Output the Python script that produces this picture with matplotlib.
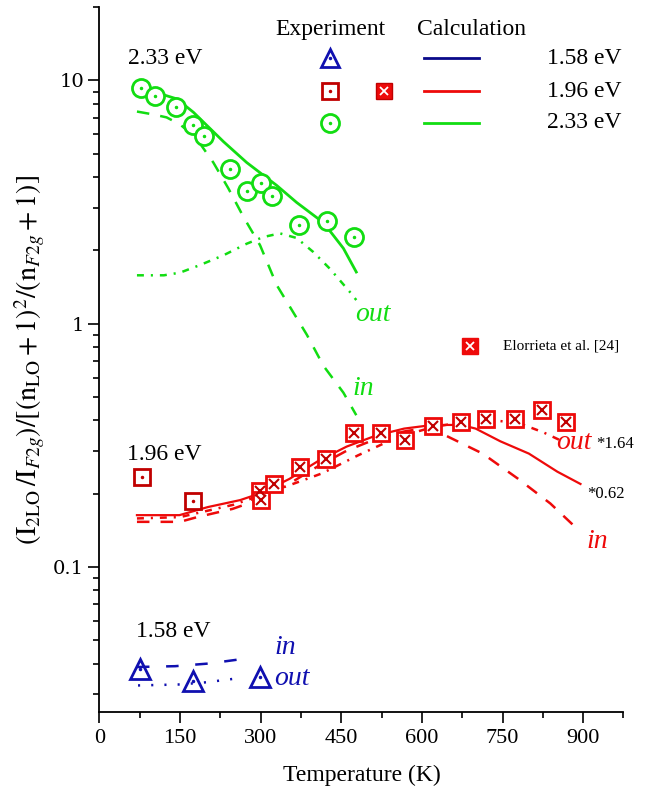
import matplotlib
matplotlib.use("Agg")
import matplotlib.pyplot as plt
from matplotlib.ticker import FixedLocator, LogLocator, NullFormatter, FixedFormatter

plt.rcParams['font.family'] = ['Liberation Serif', 'DejaVu Serif']
plt.rcParams['mathtext.fontset'] = 'stix'
plt.rcParams['lines.scale_dashes'] = False

GREEN = '#12dd12'
RED = '#ee0a0a'
DARKRED = '#c00000'
BLUE = '#1010b0'
NAVY = '#0a0a8a'

# --- experiment (temperature in K, normalised intensity ratio) ---
green_T = [77, 103, 143, 175, 195, 243, 274, 300, 322, 372, 424, 473]
green_v = [9.33, 8.65, 7.77, 6.55, 5.92, 4.34, 3.50, 3.77, 3.35, 2.54, 2.64, 2.27]

red_T = [79, 175]
red_v = [0.235, 0.187]

elor_T = [298, 300, 325, 373, 421, 474, 524, 568, 621, 673, 720, 773, 823, 869]
elor_v = [0.205, 0.188, 0.218, 0.258, 0.278, 0.355, 0.355, 0.332, 0.38, 0.393, 0.406, 0.406, 0.442, 0.393]

blue_T = [76, 175, 299]
blue_v = [0.038, 0.034, 0.0352]

# --- calculation ---
g_sol_T = [70, 100, 144, 175, 231, 274, 330, 367, 417, 454, 478]
g_sol_v = [9.3, 9.0, 8.4, 7.4, 5.6, 4.6, 3.7, 3.15, 2.6, 2.04, 1.63]
g_in_T = [70, 100, 125, 150, 180, 212, 240, 268, 299, 330, 386, 417, 454, 478]
g_in_v = [7.45, 7.25, 7.05, 6.6, 5.8, 4.6, 3.6, 2.75, 2.1, 1.44, 0.90, 0.67, 0.52, 0.42]
g_out_T = [70, 120, 150, 187, 231, 274, 305, 336, 367, 398, 429, 466, 478]
g_out_v = [1.58, 1.58, 1.62, 1.74, 1.91, 2.13, 2.27, 2.35, 2.25, 1.97, 1.68, 1.35, 1.25]

r_sol_T = [70, 149, 202, 262, 301, 354, 408, 460, 514, 567, 620, 673, 700, 746, 799, 852, 895]
r_sol_v = [0.163, 0.163, 0.176, 0.188, 0.201, 0.23, 0.273, 0.312, 0.346, 0.37, 0.383, 0.383, 0.37, 0.328, 0.292, 0.246, 0.219]
r_in_T = [70, 150, 182, 248, 300, 354, 408, 460, 514, 567, 600, 646, 713, 779, 839, 882]
r_in_v = [0.153, 0.153, 0.16, 0.173, 0.19, 0.22, 0.26, 0.30, 0.335, 0.36, 0.37, 0.345, 0.292, 0.23, 0.182, 0.148]
r_out_T = [70, 150, 250, 350, 414, 481, 553, 620, 680, 733, 780, 826, 859]
r_out_v = [0.158, 0.16, 0.18, 0.215, 0.242, 0.287, 0.34, 0.375, 0.395, 0.40, 0.39, 0.357, 0.33]

b_in_T = [70, 141, 204, 275]
b_in_v = [0.0387, 0.039, 0.040, 0.042]
b_out_T = [72, 150, 200, 250]
b_out_v = [0.0325, 0.0328, 0.0335, 0.0346]

x_ticks = [0, 150, 300, 450, 600, 750, 900]
y_ticks = [0.1, 1, 10]
y_tick_labels = ['0.1', '1', '10']

fig = plt.figure(figsize=(6.5, 7.98), dpi=100)
ax = fig.add_axes([0.1528, 0.1074, 0.8064, 0.8835])
ax.set_yscale('log')
ax.set_xlim(0, 975)
ax.set_ylim(0.0252, 20)

dash_in = (0, (9, 8))
dash_out = (0, (5, 5, 1.5, 5))

# calculation lines
ax.plot(g_sol_T, g_sol_v, color=GREEN, lw=2.0)
ax.plot(g_in_T, g_in_v, color=GREEN, lw=1.8, linestyle=dash_in)
ax.plot(g_out_T, g_out_v, color=GREEN, lw=1.8, linestyle=dash_out)
ax.plot(r_sol_T, r_sol_v, color=RED, lw=1.6)
ax.plot(r_in_T, r_in_v, color=RED, lw=1.8, linestyle=dash_in)
ax.plot(r_out_T, r_out_v, color=RED, lw=1.8, linestyle=dash_out)
ax.plot(b_in_T, b_in_v, color=BLUE, lw=1.8, linestyle=(0, (9, 12)))
ax.plot(b_out_T, b_out_v, color=BLUE, lw=1.8, linestyle=(0, (1.5, 8)))

# experiment markers
ax.plot(green_T, green_v, 'o', mfc='white', mec=GREEN, ms=13, mew=2)
ax.plot(green_T, green_v, '.', color=GREEN, ms=3)
ax.plot(red_T, red_v, 's', mfc='white', mec=DARKRED, ms=11, mew=2)
ax.plot(red_T, red_v, '.', color=DARKRED, ms=3)
ax.plot(elor_T, elor_v, 's', mfc='white', mec=RED, ms=12, mew=2)
ax.plot(elor_T, elor_v, 'x', color=DARKRED, ms=7, mew=1.5)
ax.plot(blue_T, blue_v, '^', mfc='none', mec=BLUE, ms=14, mew=2)
ax.plot(blue_T, blue_v, '.', color=BLUE, ms=3)

# axes style
for s in ['top', 'right']:
    ax.spines[s].set_visible(False)
for s in ['left', 'bottom']:
    ax.spines[s].set_linewidth(1.3)
ax.xaxis.set_major_locator(FixedLocator(x_ticks))
ax.xaxis.set_minor_locator(FixedLocator(list(range(75, 976, 150))))
ax.yaxis.set_major_locator(FixedLocator(y_ticks))
ax.yaxis.set_major_formatter(FixedFormatter(y_tick_labels))
ax.yaxis.set_minor_locator(LogLocator(base=10, subs=range(2, 10)))
ax.yaxis.set_minor_formatter(NullFormatter())
ax.tick_params(which='major', length=8, width=1.2, direction='out')
ax.tick_params(which='minor', length=4, width=1.2, direction='out')
ax.tick_params(axis='x', labelsize=16, pad=4)
ax.tick_params(axis='y', labelsize=14, pad=3)
for lab in ax.get_yticklabels():
    lab.set_fontfamily('DejaVu Serif')

ax.set_xlabel('Temperature (K)', fontsize=17, labelpad=12)
ax.set_ylabel(r'$(\mathrm{I}_{2\mathrm{LO}}\,/\mathrm{I}_{F2g})/[(\mathrm{n}_{\mathrm{LO}}+1)^2/(\mathrm{n}_{F2g}+1)]$',
              fontsize=20, labelpad=4)

# curve labels
ax.text(52, 0.29, '1.96 eV', fontsize=17, va='center')
ax.text(69, 0.054, '1.58 eV', fontsize=17, va='center')
ax.text(470, 0.54, 'in', color=GREEN, style='italic', fontsize=20, va='center')
ax.text(476, 1.09, 'out', color=GREEN, style='italic', fontsize=20, va='center')
ax.text(849, 0.324, 'out', color=RED, style='italic', fontsize=20, va='center')
ax.text(907, 0.127, 'in', color=RED, style='italic', fontsize=20, va='center')
ax.text(925, 0.32, '*1.64', fontsize=12, va='center')
ax.text(908, 0.2, '*0.62', fontsize=12, va='center')
ax.text(326, 0.0464, 'in', color=BLUE, style='italic', fontsize=20, va='center')
ax.text(326, 0.0346, 'out', color=BLUE, style='italic', fontsize=20, va='center')

# hand-made legend (axes fractions)
tr = ax.transAxes
ax.text(0.054, 0.927, '2.33 eV', fontsize=17, va='center', transform=tr)
ax.text(0.440, 0.969, 'Experiment', fontsize=17, ha='center', va='center', transform=tr)
ax.text(0.711, 0.969, 'Calculation', fontsize=17, ha='center', va='center', transform=tr)
rows = [(0.928, NAVY, '1.58 eV'), (0.881, RED, '1.96 eV'), (0.836, GREEN, '2.33 eV')]
for ry, c, lab in rows:
    ax.plot([0.619, 0.724], [ry, ry], color=c, lw=2, transform=tr)
    ax.text(0.854, ry, lab, fontsize=17, va='center', transform=tr)
ax.plot([0.440], [0.928], '^', mfc='none', mec=BLUE, ms=13, mew=2, transform=tr)
ax.plot([0.440], [0.881], 's', mfc='white', mec=DARKRED, ms=11, mew=2, transform=tr)
ax.plot([0.440], [0.836], 'o', mfc='white', mec=GREEN, ms=13, mew=2, transform=tr)
for y0, c in [(0.928, BLUE), (0.881, DARKRED), (0.836, GREEN)]:
    ax.plot([0.440], [y0], '.', color=c, ms=3, transform=tr)
ax.plot([0.544], [0.881], 's', color=RED, mec=DARKRED, ms=11, transform=tr)
ax.plot([0.544], [0.881], 'x', color='white', ms=6, mew=1.3, transform=tr)
ax.plot([0.708], [0.519], 's', color=RED, ms=11, transform=tr)
ax.plot([0.708], [0.519], 'x', color='white', ms=6, mew=1.3, transform=tr)
ax.text(0.770, 0.519, 'Elorrieta et al. [24]', fontsize=11, va='center', transform=tr)

fig.savefig('out.png', dpi=100)
